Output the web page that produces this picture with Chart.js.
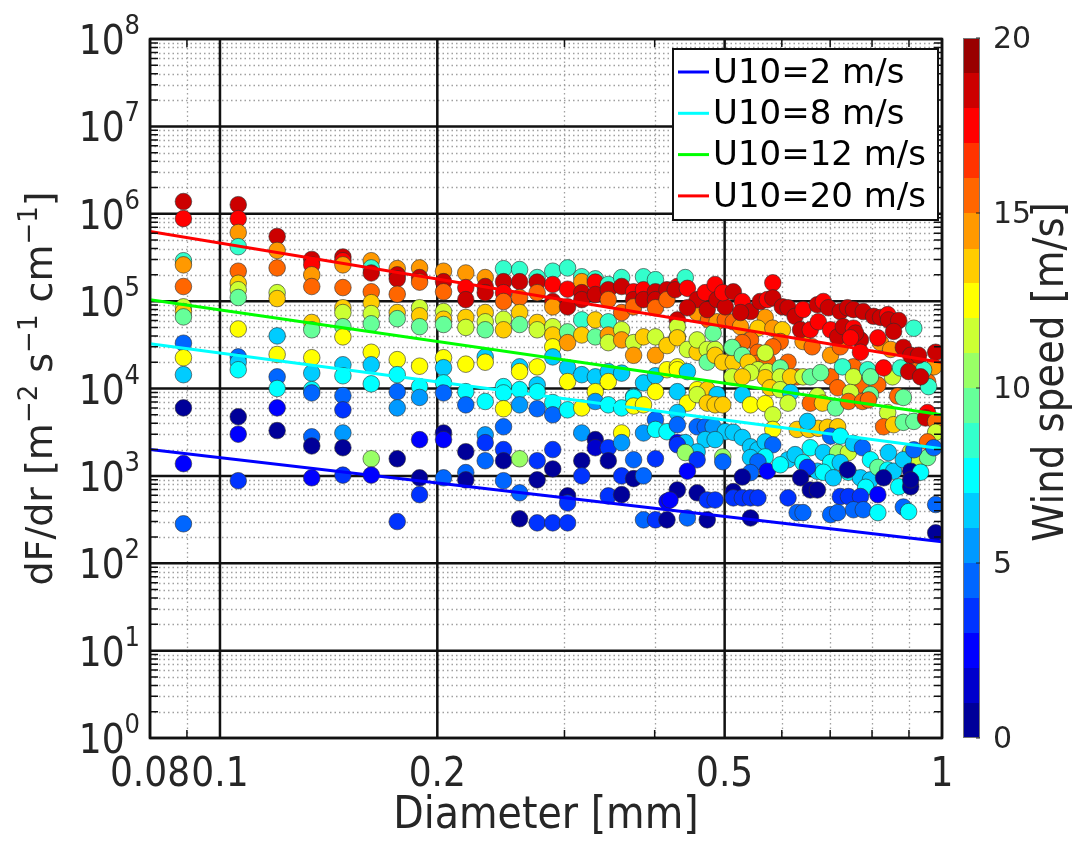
<!DOCTYPE html>
<html lang="en">
<head>
<meta charset="UTF-8">
<title>Spray flux vs drop diameter</title>
<script src="https://cdn.jsdelivr.net/npm/chart.js@4.4.1/dist/chart.umd.min.js"></script>
<style>
  html, body { margin: 0; padding: 0; background: #fff; }
  #wrap { width: 1080px; height: 843px; }
</style>
</head>
<body>
<div id="wrap"><canvas id="chart" width="1080" height="843"></canvas></div>
<script>
// axis ticks
const xMajorTicks = [0.08, 0.1, 0.2, 0.5, 1];
const xMinorTicks = [0.09, 0.3, 0.4, 0.6, 0.7, 0.8, 0.9];
const yExponents = [0, 1, 2, 3, 4, 5, 6, 7, 8];
const yMinorMult = [2, 3, 4, 5, 6, 7, 8, 9];
const cbarTicks = [0, 5, 10, 15, 20];

// fitted curves, value at d = 0.08 and d = 1 mm
const fitDiam = [0.08, 1];
const fitU2 = [2000, 176];
const fitU8 = [32600, 2040];
const fitU12 = [104000, 5000];
const fitU20 = [625000, 19800];
const fitLabels = ['U10=2 m/s', 'U10=8 m/s', 'U10=12 m/s', 'U10=20 m/s'];
const fitColors = ['#0000ff', '#00ffff', '#00ff00', '#ff0000'];

// jet colormap, 20 steps of 1 m/s
const jetColors = ['#000099', '#0000cc', '#0000ff', '#0033ff', '#0066ff', '#0099ff', '#00ccff', '#00ffff',
  '#33ffcc', '#66ff99', '#99ff66', '#ccff33', '#ffff00', '#ffcc00', '#ff9900', '#ff6600', '#ff3300',
  '#ff0000', '#cc0000', '#990000'];

// measurements: [diameter mm, dF/dr, wind speed m/s]
const dropsSmall = [
  [0.089,1.38e6,18.5],[0.089,8.8e5,17.5],[0.089,2.9e5,8.5],[0.089,2.6e5,14.5],[0.089,1.47e5,15.5],
  [0.089,8.6e4,11.5],[0.089,7.6e4,13.5],[0.089,6.6e4,9.5],[0.089,3.3e4,4.5],[0.089,2.25e4,12.5],
  [0.089,1.44e4,6.5],[0.089,6000,0.5],[0.089,1380,2.5],[0.089,283,4.5],
  [0.106,1.27e6,18.5],[0.106,8.8e5,17.5],[0.106,6.1e5,14.5],[0.106,4.2e5,8.5],[0.106,2.2e5,15.5],
  [0.106,1.6e5,13.5],[0.106,1.35e5,11.5],[0.106,1.1e5,9.5],[0.106,4.8e4,12.5],[0.106,2.3e4,4.5],
  [0.106,2.0e4,6.5],[0.106,1.64e4,7.5],[0.106,4750,0.5],[0.106,3000,2.5],[0.106,880,3.5],
  [0.120,5.5e5,18.5],[0.120,3.8e5,14.5],[0.120,2.4e5,15.5],[0.120,1.25e5,11.5],[0.120,1.07e5,13.5],
  [0.120,4.0e4,6.5],[0.120,2.45e4,12.5],[0.120,1.36e4,4.5],[0.120,1.0e4,7.5],[0.120,6000,2.5],[0.120,3300,0.5],
  [0.134,3.0e5,18.5],[0.134,2.6e5,17.5],[0.134,2.0e5,14.5],[0.134,1.47e5,15.5],[0.134,5.7e4,13.5],
  [0.134,4.7e4,9.5],[0.134,2.25e4,12.5],[0.134,1.5e4,6.5],[0.134,9700,7.5],[0.134,8900,4.5],
  [0.134,2800,4.5],[0.134,2200,0.5],[0.134,950,2.5],
  [0.148,3.2e5,18.5],[0.148,2.9e5,17.5],[0.148,2.6e5,14.5],[0.148,1.43e5,15.5],[0.148,8.4e4,13.5],
  [0.148,7.4e4,11.5],[0.148,5.1e4,9.5],[0.148,3.9e4,12.5],[0.148,1.87e4,6.5],[0.148,1.4e4,7.5],
  [0.148,8300,4.5],[0.148,5700,3.5],[0.148,3100,5.5],[0.148,2100,0.5],[0.148,1020,3.5],
  [0.162,2.9e5,14.5],[0.162,2.4e5,8.5],[0.162,2.1e5,18.5],[0.162,1.28e5,15.5],[0.162,9.6e4,13.5],
  [0.162,7.2e4,11.5],[0.162,5.5e4,9.5],[0.162,2.6e4,12.5],[0.162,1.87e4,6.5],[0.162,1.13e4,7.5],
  [0.162,1570,10.5],[0.162,1020,2.5],
  [0.176,2.36e5,14.5],[0.176,2.0e5,18.5],[0.176,1.8e5,18.5],[0.176,1.2e5,15.5],[0.176,7.4e4,13.5],
  [0.176,6.3e4,9.5],[0.176,2.14e4,12.5],[0.176,1.44e4,7.5],[0.176,9200,4.5],[0.176,6000,5.5],
  [0.176,1570,0.5],[0.176,300,3.5],
  [0.189,2.4e5,14.5],[0.189,1.86e5,18.5],[0.189,1.65e5,15.5],[0.189,8.4e4,11.5],[0.189,6.8e4,13.5],
  [0.189,5.1e4,9.5],[0.189,1.8e4,12.5],[0.189,1.05e4,7.5],[0.189,7900,5.5],[0.189,2600,2.5],
  [0.189,950,0.5],[0.189,610,3.5]
];

const dropsMid = [
  [0.204,2.2e5,14.5],[0.204,1.67e5,18.5],[0.204,1.28e5,15.5],[0.204,7.6e4,11.5],[0.204,6.2e4,13.5],
  [0.204,5.4e4,9.5],[0.204,2.25e4,12.5],[0.204,1.73e4,6.5],[0.204,1.16e4,7.5],[0.204,8900,4.5],
  [0.204,3100,0.5],[0.204,2600,2.5],[0.204,950,4.5],
  [0.219,2.1e5,14.5],[0.219,1.43e5,17.5],[0.219,1.04e5,18.5],[0.219,6.5e4,13.5],[0.219,5.0e4,11.5],
  [0.219,1.9e4,12.5],[0.219,9200,7.5],[0.219,6500,4.5],[0.219,1890,0.5],[0.219,1090,4.5],[0.219,900,0.5],
  [0.233,1.86e5,14.5],[0.233,1.47e5,18.5],[0.233,1.25e5,18.5],[0.233,7.4e4,13.5],[0.233,5.8e4,11.5],
  [0.233,4.7e4,9.5],[0.233,2.3e4,6.5],[0.233,2.0e4,12.5],[0.233,7100,7.5],[0.233,2950,5.5],
  [0.233,2400,3.5],[0.233,1490,4.5],
  [0.247,2.35e5,8.5],[0.247,1.67e5,18.5],[0.247,1.25e5,17.5],[0.247,9.9e4,15.5],[0.247,6.2e4,11.5],
  [0.247,4.7e4,13.5],[0.247,1.05e4,7.5],[0.247,8900,7.5],[0.247,5870,12.5],[0.247,3650,4.5],
  [0.247,2000,3.5],[0.247,1490,0.5],[0.247,880,4.5],
  [0.260,2.3e5,8.5],[0.260,1.67e5,18.5],[0.260,1.1e5,15.5],[0.260,7.4e4,13.5],[0.260,5.4e4,9.5],
  [0.260,1.77e4,6.5],[0.260,1.56e4,12.5],[0.260,9700,7.5],[0.260,6500,5.5],[0.260,1570,10.5],
  [0.260,640,4.5],[0.260,323,0.5],
  [0.275,1.86e5,8.5],[0.275,1.65e5,18.5],[0.275,1.25e5,15.5],[0.275,5.7e4,13.5],[0.275,4.7e4,11.5],
  [0.275,1.77e4,12.5],[0.275,1.1e4,6.5],[0.275,9200,7.5],[0.275,5870,4.5],[0.275,1490,3.5],
  [0.275,900,0.5],[0.275,290,3.5],
  [0.289,2.2e5,8.5],[0.289,1.55e5,17.5],[0.289,9.9e4,18.5],[0.289,8.6e4,14.5],[0.289,5.1e4,11.5],
  [0.289,4.1e4,13.5],[0.289,3.0e4,12.5],[0.289,2.3e4,6.5],[0.289,6900,7.5],[0.289,5000,4.5],
  [0.289,2000,3.5],[0.289,1200,0.5],[0.289,290,3.5],
  [0.303,2.4e5,8.5],[0.303,1.37e5,17.5],[0.303,8.6e4,18.5],[0.303,4.45e4,9.5],[0.303,3.35e4,14.5],
  [0.303,1.73e4,6.5],[0.303,1.2e4,12.5],[0.303,5700,7.5],[0.303,590,0.5],[0.303,490,3.5],[0.303,290,3.5],
  [0.317,1.9e5,8.5],[0.317,1.67e5,14.5],[0.317,1.25e5,18.5],[0.317,1.04e5,18.5],[0.317,6.1e4,8.5],
  [0.317,4.1e4,13.5],[0.317,1.44e4,6.5],[0.317,6000,12.5],[0.317,3100,5.5],[0.317,1490,0.5],[0.317,1000,3.5],
  [0.331,1.8e5,8.5],[0.331,1.65e5,17.5],[0.331,1.19e5,18.5],[0.331,6.1e4,13.5],[0.331,3.9e4,9.5],
  [0.331,1.36e4,6.5],[0.331,9200,12.5],[0.331,7100,5.5],[0.331,2600,0.5],[0.331,2100,1.5],
  [0.345,1.55e5,8.5],[0.345,1.35e5,18.5],[0.345,1.04e5,15.5],[0.345,5.8e4,8.5],[0.345,4.1e4,14.5],
  [0.345,3.35e4,11.5],[0.345,1.56e4,6.5],[0.345,1.2e4,12.5],[0.345,6500,7.5],[0.345,2100,3.5],
  [0.345,1490,0.5],[0.345,590,3.5],
  [0.360,1.86e5,8.5],[0.360,1.47e5,18.5],[0.360,7.4e4,15.5],[0.360,4.7e4,11.5],[0.360,3.6e4,14.5],
  [0.360,1.5e4,6.5],[0.360,6000,7.5],[0.360,3100,12.5],[0.360,2400,5.5],[0.360,1000,3.5],[0.360,610,0.5],
  [0.374,1.28e5,17.5],[0.374,1.04e5,18.5],[0.374,8.6e4,15.5],[0.374,3.35e4,11.5],[0.374,2.4e4,14.5],
  [0.374,8100,6.5],[0.374,7900,7.5],[0.374,6300,12.5],[0.374,1530,4.5],[0.374,930,0.5],
  [0.386,1.9e5,8.5],[0.386,1.35e5,17.5],[0.386,1.04e5,18.5],[0.386,3.9e4,13.5],[0.386,1.16e4,6.5],
  [0.386,6500,12.5],[0.386,3100,5.5],[0.386,1000,4.5],[0.386,314,4.5],
  [0.401,1.76e5,8.5],[0.401,1.28e5,18.5],[0.401,1.04e5,18.5],[0.401,8.4e4,15.5],[0.401,3.9e4,11.5],
  [0.401,2.4e4,14.5],[0.401,1.4e4,6.5],[0.401,9200,12.5],[0.401,4400,4.5],[0.401,3400,7.5],
  [0.401,1570,3.5],[0.401,314,3.5],
  [0.416,1.35e5,18.5],[0.416,1.04e5,15.5],[0.416,3.1e4,13.5],[0.416,1.64e4,12.5],[0.416,3200,7.5],
  [0.416,510,2.5],[0.416,314,0.5]
];

const dropsLarge = [
  [0.430,1.47e5,17.5],[0.430,6.1e4,18.5],[0.430,3.9e4,11.5],[0.430,1.77e4,12.5],[0.430,9200,6.5],
  [0.430,2400,2.5],[0.430,690,0.5],[0.420,530,2.5],
  // orange / yellow / green band
  [0.458,7.4e4,14.5],[0.475,6.1e4,15.5],[0.488,5.8e4,14.5],[0.501,6.1e4,15.5],[0.514,5.8e4,15.5],
  [0.526,5.1e4,14.5],[0.569,6.5e4,14.5],[0.556,4.9e4,13.5],[0.583,4.9e4,14.5],[0.601,4.7e4,13.5],
  [0.543,3.6e4,15.5],[0.529,3.35e4,15.5],[0.597,3.45e4,15.5],[0.583,3.0e4,15.5],[0.556,2.6e4,15.5],
  [0.514,2.8e4,13.5],[0.642,3.45e4,14.5],[0.661,3.0e4,15.5],[0.701,2.4e4,14.5],[0.723,3.0e4,15.5],
  [0.822,3.35e4,14.5],[0.849,2.8e4,14.5],[0.925,2.1e4,15.5],[0.955,1.2e4,15.5],[0.974,1.77e4,14.5],
  [0.612,2.0e4,15.5],[0.630,1.36e4,15.5],[0.701,1.36e4,15.5],[0.771,1.1e4,15.5],[0.815,1.1e4,15.5],
  [0.754,1.77e4,15.5],[0.556,1.95e4,15.5],[0.573,2.1e4,15.5],
  [0.430,5.1e4,11.5],[0.430,3.8e4,13.5],[0.444,2.8e4,11.5],[0.458,2.6e4,13.5],[0.458,3.6e4,11.5],
  [0.473,2.8e4,11.5],[0.473,2.0e4,9.5],[0.485,2.8e4,11.5],[0.485,2.4e4,13.5],[0.497,2.0e4,13.5],
  [0.514,2.0e4,13.5],[0.512,2.95e4,9.5],[0.529,2.4e4,9.5],[0.539,2.0e4,13.5],[0.556,1.64e4,11.5],
  [0.573,1.56e4,11.5],[0.569,1.33e4,13.5],[0.543,1.52e4,11.5],[0.512,1.36e4,11.5],[0.529,1.36e4,13.5],
  [0.597,1.72e4,9.5],[0.597,1.36e4,11.5],[0.617,1.36e4,13.5],[0.642,1.36e4,11.5],[0.657,1.36e4,9.5],
  [0.679,1.52e4,9.5],[0.728,1.77e4,8.5],[0.754,1.36e4,11.5],[0.789,1.64e4,8.5],[0.796,1.36e4,9.5],
  [0.854,1.36e4,11.5],[0.876,1.72e4,8.5],[0.943,1.64e4,8.5],[0.958,1.05e4,8.5],[0.430,1.64e4,12.5],
  [0.444,1.56e4,6.5],[0.482,4.3e4,9.5],[0.569,2.55e4,11.5],
  [0.458,9700,12.5],[0.473,9700,13.5],[0.488,8500,6.5],[0.529,8500,6.5],[0.578,1.02e4,13.5],
  [0.597,9700,11.5],[0.617,9000,6.5],[0.672,8200,11.5],[0.717,1.02e4,15.5],[0.747,9000,11.5],
  [0.796,8500,9.5],[0.868,8200,15.5],[0.884,7900,9.5],
  [0.444,6800,12.5],[0.458,8500,11.5],[0.473,6800,13.5],[0.485,6500,13.5],[0.497,6500,13.5],
  [0.543,6500,12.5],[0.569,6700,12.5],[0.583,5000,11.5],[0.612,6800,11.5],[0.657,6800,15.5],
  [0.683,6800,13.5],[0.712,6000,9.5],[0.742,7100,15.5],[0.776,7100,15.5],[0.791,7400,15.5],
  [0.841,5300,11.5],[0.830,3650,15.5],[0.857,3850,13.5],[0.884,4100,9.5],[0.914,4200,9.5],
  [0.955,5300,17.5],[0.949,4600,18.5],[0.980,4200,15.5],[0.980,3150,11.5],[0.955,2450,15.5],
  [0.905,1900,11.5],[0.928,1420,11.5],[0.955,1620,9.5],
  [0.583,3400,12.5],[0.630,3400,13.5],[0.654,3400,13.5],[0.674,3500,13.5],[0.694,3600,13.5],
  [0.717,3650,13.5],[0.651,4200,6.5],
  // cyan / light blue band
  [0.430,5300,6.5],[0.430,3850,4.5],[0.458,3650,4.5],[0.470,3650,4.5],[0.482,3650,5.5],
  [0.501,3200,6.5],[0.514,3150,6.5],[0.529,2750,6.5],[0.470,2600,6.5],[0.485,2600,6.5],
  [0.441,2400,6.5],[0.430,2270,3.5],[0.458,1880,6.5],[0.441,1850,10.5],[0.497,1650,10.5],
  [0.497,1450,4.5],[0.458,1530,3.5],[0.444,1130,2.5],[0.543,2150,6.5],[0.556,1990,6.5],
  [0.569,2450,6.5],[0.583,2270,4.5],[0.569,1650,7.5],[0.543,1620,6.5],[0.556,1450,4.5],
  [0.543,1090,4.5],[0.573,1130,2.5],[0.529,970,0.5],[0.612,1530,6.5],[0.597,1340,7.5],
  [0.626,1750,6.5],[0.642,1420,7.5],[0.657,2100,7.5],[0.685,1850,6.5],[0.701,2850,4.5],
  [0.723,2850,7.5],[0.717,1850,10.5],[0.742,1850,11.5],[0.754,2350,6.5],[0.776,2100,4.5],
  [0.701,1420,7.5],[0.723,1420,6.5],[0.672,1130,6.5],[0.685,1100,7.5],[0.707,950,6.5],
  [0.742,1100,7.5],[0.771,950,6.5],[0.796,900,6.5],[0.740,1170,0.5],[0.651,1250,3.5],
  [0.796,1530,7.5],[0.815,1250,9.5],[0.843,1850,6.5],[0.841,1170,7.5],[0.857,1130,6.5],
  [0.884,1530,6.5],[0.871,750,7.5],[0.905,1130,0.5],[0.934,1100,7.5],[0.914,1990,4.5],
  [0.974,2100,4.5],[0.784,740,7.5],
  // blue band
  [0.458,640,0.5],[0.473,530,3.5],[0.485,530,3.5],[0.514,660,0.5],[0.514,560,3.5],
  [0.529,560,3.5],[0.543,560,3.5],[0.556,560,3.5],[0.612,560,3.5],[0.637,950,0.5],
  [0.657,690,0.5],[0.672,690,0.5],[0.723,580,3.5],[0.742,580,3.5],[0.771,580,3.5],
  [0.815,610,2.5],[0.830,950,0.5],[0.905,750,0.5],[0.905,900,0.5],[0.444,330,4.5],
  [0.473,314,0.5],[0.543,330,0.5],[0.630,380,4.5],[0.642,380,4.5],[0.701,360,4.5],
  [0.717,380,4.5],[0.754,410,4.5],[0.778,410,4.5],[0.815,380,7.5],[0.884,440,4.5],
  [0.899,390,7.5],[0.980,470,4.5],[0.980,223,0.5],
  // red / dark red band
  [0.427,1.35e5,18.5],[0.441,1.86e5,8.5],[0.444,1.4e5,17.5],[0.458,1.04e5,18.5],[0.444,8.4e4,18.5],
  [0.470,1.25e5,17.5],[0.473,8.0e4,18.5],[0.485,1.55e5,17.5],[0.488,1.04e5,18.5],[0.501,8.6e4,18.5],
  [0.497,1.25e5,17.5],[0.514,1.28e5,18.5],[0.529,9.9e4,17.5],[0.543,7.6e4,18.5],[0.526,7.4e4,18.5],
  [0.560,9.9e4,18.5],[0.573,1.04e5,17.5],[0.583,1.62e5,17.5],[0.583,1.09e5,18.5],[0.601,8.6e4,18.5],
  [0.612,8.4e4,18.5],[0.626,6.7e4,18.5],[0.642,8.0e4,17.5],[0.672,9.1e4,18.5],[0.685,9.9e4,17.5],
  [0.696,8.4e4,18.5],[0.723,7.6e4,18.5],[0.740,8.4e4,18.5],[0.754,8.0e4,18.5],[0.778,7.6e4,18.5],
  [0.804,6.7e4,18.5],[0.822,6.5e4,18.5],[0.841,7.0e4,17.5],[0.843,6.1e4,18.5],[0.871,6.0e4,18.5],
  [0.857,4.5e4,18.5],[0.914,4.9e4,8.5],[0.637,4.7e4,18.5],[0.657,4.7e4,17.5],[0.674,5.8e4,17.5],
  [0.701,4.7e4,17.5],[0.717,3.9e4,18.5],[0.730,5.1e4,18.5],[0.754,4.9e4,17.5],[0.771,3.6e4,18.5],
  [0.759,4.3e4,18.5],[0.815,3.8e4,17.5],[0.747,3.8e4,17.5],[0.771,2.6e4,17.5],[0.830,1.72e4,17.5],
  [0.884,2.95e4,18.5],[0.905,2.4e4,18.5],[0.928,2.4e4,18.5],[0.980,2.6e4,18.5],[0.899,1.56e4,18.5],
  [0.934,1.36e4,18.5]
];

const narrowFont = "'Liberation Sans Narrow', 'DejaVu Sans Condensed', 'DejaVu Sans', sans-serif";
const plainFont = "'DejaVu Sans', 'Liberation Sans', sans-serif";
const ink = '#262626';

function jetColor(u) {
  const i = Math.max(0, Math.min(19, Math.floor(u || 0)));
  return jetColors[i];
}

// draws text made of [string, isSuperscript] pieces, centred on 0
function drawRich(ctx, pieces, size, supSize, rise) {
  const widths = pieces.map(p => {
    ctx.font = (p[1] ? supSize : size) + 'px ' + plainFont;
    return ctx.measureText(p[0]).width;
  });
  let x = -widths.reduce((a, b) => a + b, 0) / 2;
  pieces.forEach((p, i) => {
    ctx.font = (p[1] ? supSize : size) + 'px ' + plainFont;
    ctx.fillText(p[0], x, p[1] ? -rise : 0);
    x += widths[i];
  });
}

const framePlugin = {
  id: 'matlabFrame',
  beforeDatasetsDraw(chart) {
    const { ctx, chartArea: a, scales: { x, y } } = chart;
    ctx.save();
    // dotted minor grid
    ctx.strokeStyle = '#a0a0a0';
    ctx.lineWidth = 1.3;
    ctx.setLineDash([1.5, 3]);
    ctx.beginPath();
    xMinorTicks.forEach(v => {
      const px = Math.round(x.getPixelForValue(v)) + 0.5;
      ctx.moveTo(px, a.top); ctx.lineTo(px, a.bottom);
    });
    yExponents.slice(0, -1).forEach(e => {
      yMinorMult.forEach(m => {
        const py = Math.round(y.getPixelForValue(m * Math.pow(10, e))) + 0.5;
        ctx.moveTo(a.left, py); ctx.lineTo(a.right, py);
      });
    });
    ctx.stroke();
    // solid major grid
    ctx.setLineDash([]);
    ctx.strokeStyle = '#111';
    ctx.lineWidth = 2.5;
    ctx.beginPath();
    xMajorTicks.forEach(v => {
      const px = x.getPixelForValue(v);
      ctx.moveTo(px, a.top); ctx.lineTo(px, a.bottom);
    });
    yExponents.forEach(e => {
      const py = y.getPixelForValue(Math.pow(10, e));
      ctx.moveTo(a.left, py); ctx.lineTo(a.right, py);
    });
    ctx.stroke();
    ctx.restore();
  },
  afterDatasetsDraw(chart) {
    const { ctx, chartArea: a, scales: { x, y } } = chart;
    ctx.save();
    // inward minor ticks on all four sides
    ctx.strokeStyle = '#111';
    ctx.lineWidth = 1.5;
    ctx.beginPath();
    xMinorTicks.forEach(v => {
      const px = x.getPixelForValue(v);
      ctx.moveTo(px, a.bottom); ctx.lineTo(px, a.bottom - 8);
      ctx.moveTo(px, a.top); ctx.lineTo(px, a.top + 8);
    });
    yExponents.slice(0, -1).forEach(e => {
      yMinorMult.forEach(m => {
        const py = y.getPixelForValue(m * Math.pow(10, e));
        ctx.moveTo(a.left, py); ctx.lineTo(a.left + 8, py);
        ctx.moveTo(a.right, py); ctx.lineTo(a.right - 8, py);
      });
    });
    ctx.stroke();
    // box
    ctx.lineWidth = 2.5;
    ctx.strokeRect(a.left, a.top, a.right - a.left, a.bottom - a.top);

    // y tick labels 10^n
    ctx.fillStyle = ink;
    ctx.textBaseline = 'alphabetic';
    yExponents.forEach(e => {
      const py = y.getPixelForValue(Math.pow(10, e));
      ctx.font = '27px ' + narrowFont;
      ctx.textAlign = 'right';
      const sup = String(e);
      ctx.fillText(sup, a.left - 10, py - 5);
      const sw = ctx.measureText(sup).width;
      ctx.font = '40px ' + narrowFont;
      ctx.fillText('10', a.left - 10 - sw, py + 15);
    });

    // y axis title
    ctx.save();
    ctx.translate(52, (a.top + a.bottom) / 2);
    ctx.rotate(-Math.PI / 2);
    ctx.textAlign = 'left';
    drawRich(ctx, [['dF/dr [m', false], ['\u22122', true], [' s', false], ['\u22121', true],
      [' cm', false], ['\u22121', true], [']', false]], 38, 26, 15);
    ctx.restore();

    // legend
    const lx = 673, ly = 49, lw = 265, lh = 171;
    ctx.fillStyle = '#fff';
    ctx.fillRect(lx, ly, lw, lh);
    ctx.strokeStyle = '#111';
    ctx.lineWidth = 2;
    ctx.strokeRect(lx, ly, lw, lh);
    ctx.font = '34px ' + plainFont;
    ctx.textAlign = 'left';
    ctx.textBaseline = 'middle';
    fitLabels.forEach((lab, i) => {
      const cy = ly + 23 + i * 41.3;
      ctx.strokeStyle = fitColors[i];
      ctx.lineWidth = 3;
      ctx.beginPath(); ctx.moveTo(lx + 5, cy); ctx.lineTo(lx + 36, cy); ctx.stroke();
      ctx.fillStyle = '#000';
      ctx.fillText(lab, lx + 40, cy + 2);
    });

    // colorbar
    const cbL = 963, cbW = 17, cbTop = a.top - 1, cbBot = a.bottom;
    const cbY = v => cbBot - (v - cbarTicks[0]) / (cbarTicks[cbarTicks.length - 1] - cbarTicks[0]) * (cbBot - cbTop);
    jetColors.forEach((c, i) => {
      ctx.fillStyle = c;
      const y0 = cbY(i + 1), y1 = cbY(i);
      ctx.fillRect(cbL, Math.floor(y0), cbW, Math.ceil(y1) - Math.floor(y0));
    });
    ctx.strokeStyle = '#777';
    ctx.lineWidth = 1;
    ctx.strokeRect(cbL + 0.5, cbTop + 0.5, cbW - 1, cbBot - cbTop - 1);
    ctx.strokeStyle = '#222';
    ctx.beginPath();
    cbarTicks.forEach(t => {
      const py = cbY(t);
      ctx.moveTo(cbL + cbW - 4, py); ctx.lineTo(cbL + cbW, py);
    });
    ctx.stroke();
    ctx.fillStyle = ink;
    ctx.font = '30px ' + plainFont;
    ctx.textAlign = 'left';
    ctx.textBaseline = 'middle';
    cbarTicks.forEach(t => ctx.fillText(String(t), 993, cbY(t) + 2));
    ctx.save();
    ctx.translate(1052, 372);
    ctx.rotate(-Math.PI / 2);
    ctx.textAlign = 'center';
    ctx.textBaseline = 'middle';
    ctx.font = '43px ' + narrowFont;
    ctx.fillText('Wind speed [m/s]', 0, 0);
    ctx.restore();

    ctx.restore();
  }
};

const toPoints = rows => rows.map(r => ({ x: r[0], y: r[1], u: r[2] }));
const dropPoints = toPoints(dropsSmall).concat(toPoints(dropsMid), toPoints(dropsLarge));
const fitSeries = [fitU2, fitU8, fitU12, fitU20];

const fitDatasets = fitSeries.map((f, i) => ({
  label: fitLabels[i],
  data: fitDiam.map((d, k) => ({ x: d, y: f[k] })),
  showLine: true,
  borderColor: fitColors[i],
  borderWidth: 3,
  pointRadius: 0,
  order: 0
}));

const ctx = document.getElementById('chart').getContext('2d');
new Chart(ctx, {
  type: 'scatter',
  data: {
    datasets: fitDatasets.concat([{
      label: 'drops',
      data: dropPoints,
      order: 1,
      pointRadius: 8.3,
      pointHoverRadius: 8.3,
      pointBackgroundColor: c => jetColor(c.raw && c.raw.u),
      pointBorderColor: 'rgba(45,45,45,0.6)',
      pointBorderWidth: 1
    }])
  },
  options: {
    responsive: false,
    animation: false,
    events: [],
    layout: { padding: { top: 39, right: 138, bottom: 0, left: 0 } },
    plugins: { legend: { display: false }, tooltip: { enabled: false } },
    scales: {
      x: {
        type: 'logarithmic',
        min: 0.08,
        max: 1,
        afterBuildTicks: s => { s.ticks = xMajorTicks.map(v => ({ value: v })); },
        afterFit: s => { s.height = 105; },
        grid: { display: false },
        border: { display: false },
        ticks: {
          autoSkip: false, maxRotation: 0, minRotation: 0, padding: 6, color: ink,
          font: { family: narrowFont, size: 40 },
          callback: v => String(v)
        },
        title: {
          display: true, text: 'Diameter [mm]', color: ink,
          font: { family: narrowFont, size: 44 }, padding: { top: 0, bottom: 0 }
        }
      },
      y: {
        type: 'logarithmic',
        min: 1,
        max: 1e8,
        afterFit: s => { s.width = 150; },
        grid: { display: false },
        border: { display: false },
        ticks: { display: false }
      }
    }
  },
  plugins: [framePlugin]
});
</script>
</body>
</html>
